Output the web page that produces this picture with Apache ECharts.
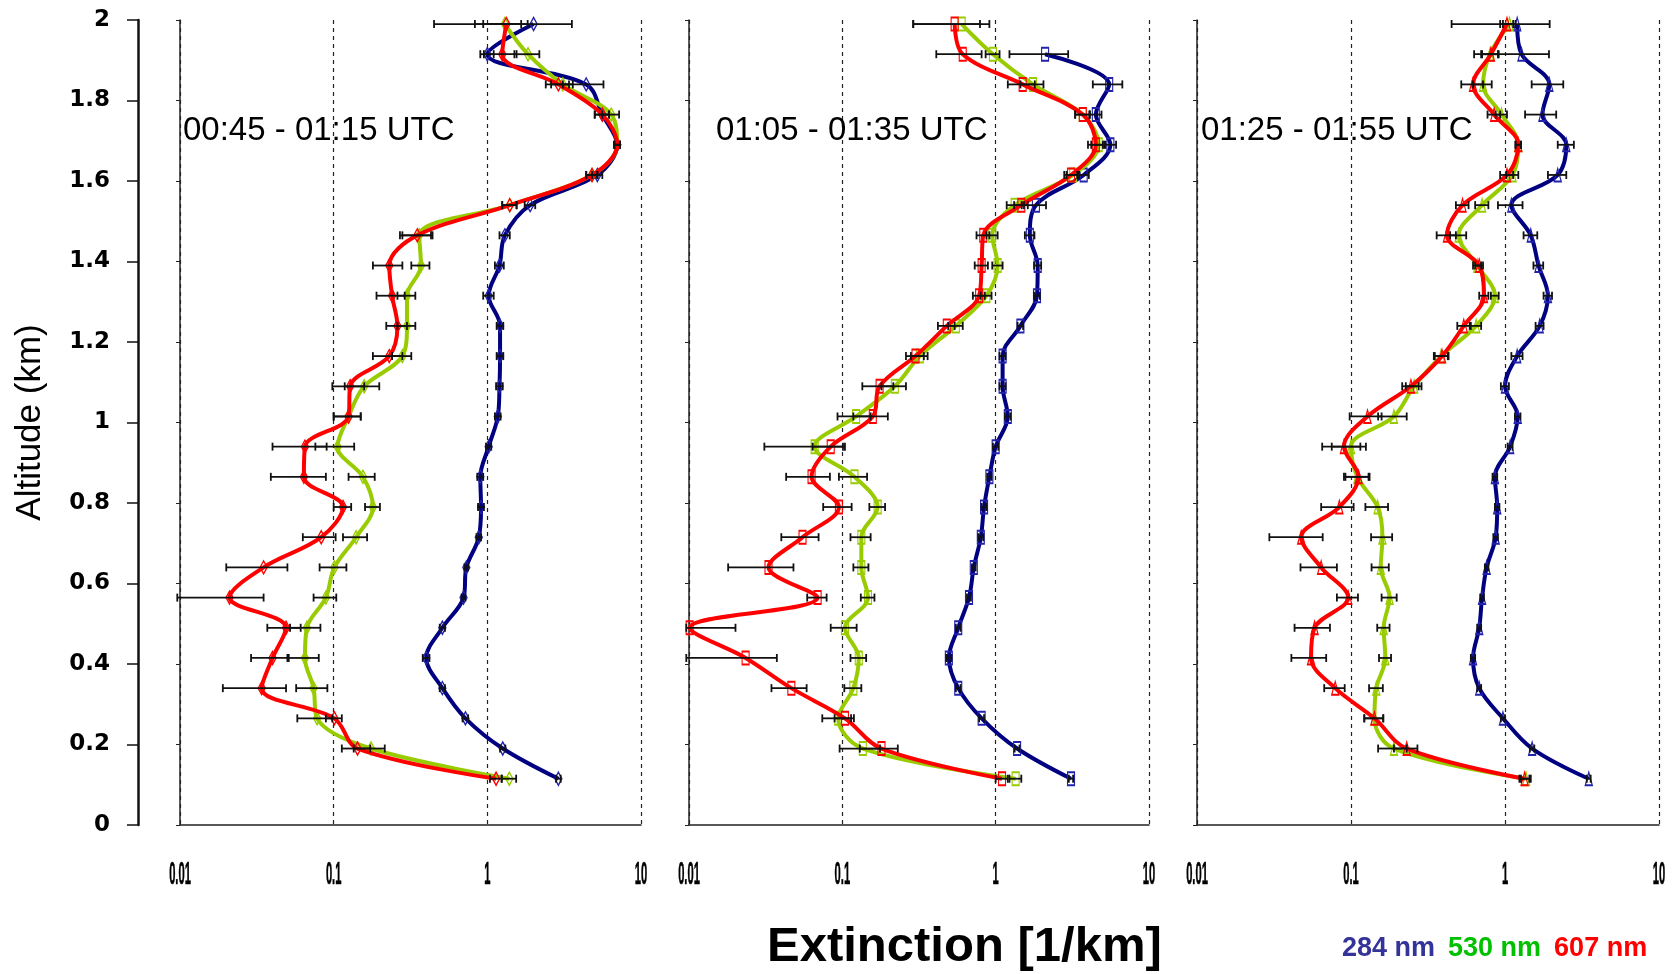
<!DOCTYPE html>
<html><head><meta charset="utf-8">
<script src="https://cdn.jsdelivr.net/npm/echarts@6/dist/echarts.min.js"></script>
<style>html,body{margin:0;padding:0;background:#fff}#c{width:1674px;height:974px}</style>
</head><body><div id="c"></div>
<script>
// ---------- data ----------
const altitudes = [0.115,0.19,0.265,0.34,0.415,0.49,0.565,0.64,0.715,0.79,0.865,0.94,1.015,1.09,1.165,1.24,1.315,1.39,1.465,1.54,1.615,1.69,1.765,1.84,1.915,1.99];
const panelTitles = ['00:45 - 01:15 UTC','01:05 - 01:35 UTC','01:25 - 01:55 UTC'];
const seriesNames = ['284 nm','530 nm','607 nm'];
const xTickValues = [0.01, 0.1, 1, 10];
const xTickLabels = ['0.01','0.1','1','10'];
const yTickLabels = ['0','0.2','0.4','0.6','0.8','1','1.2','1.4','1.6','1.8','2'];

// panel 1 (00:45 - 01:15 UTC)
const p1Blue  = [2.9,1.26,0.72,0.51,0.40,0.51,0.70,0.73,0.88,0.91,0.90,1.02,1.17,1.2,1.21,1.21,1.02,1.2,1.3,1.9,5.2,7.0,5.6,4.4,1.0,2.0];
const p1Green = [1.39,0.175,0.078,0.074,0.065,0.067,0.089,0.101,0.14,0.18,0.155,0.106,0.125,0.158,0.28,0.30,0.30,0.37,0.36,1.4,4.8,7.0,6.4,3.1,1.84,1.3];
const p1Red   = [1.14,0.143,0.101,0.034,0.040,0.049,0.021,0.035,0.083,0.115,0.064,0.065,0.125,0.128,0.23,0.26,0.24,0.23,0.35,1.4,4.8,7.0,5.6,2.9,1.25,1.33];
const p1BlueErr  = [0.1,0.05,0.03,0.02,0.02,0.02,0.02,0.02,0.03,0.04,0.04,0.04,0.05,0.06,0.06,0.06,0.08,0.08,0.1,0.15,0.4,0.3,0.6,1.3,0.1,1.55];
const p1GreenErr = [0.15,0.04,0.02,0.017,0.015,0.015,0.015,0.02,0.025,0.02,0.03,0.03,0.025,0.04,0.04,0.04,0.04,0.05,0.08,0.15,0.4,0.3,0.8,0.5,0.34,0.36];
const p1RedErr   = [0.1,0.03,0.012,0.015,0.011,0.012,0.014,0.015,0.02,0.015,0.025,0.025,0.025,0.03,0.05,0.04,0.05,0.05,0.08,0.15,0.4,0.3,0.6,0.5,0.3,0.5];

// panel 2 (01:05 - 01:35 UTC)
const p2Blue  = [3.1,1.38,0.81,0.57,0.495,0.57,0.67,0.72,0.80,0.84,0.91,1.0,1.2,1.11,1.11,1.45,1.86,1.88,1.67,1.83,3.75,5.6,4.5,5.5,2.1,null];
const p2Green = [1.35,0.136,0.094,0.118,0.128,0.104,0.147,0.133,0.133,0.17,0.12,0.066,0.123,0.22,0.32,0.55,0.87,1.03,0.95,1.33,3.2,4.7,3.7,1.75,0.96,0.60];
const p2Red   = [1.1,0.18,0.104,0.0465,0.0234,0.0101,0.069,0.033,0.055,0.095,0.063,0.084,0.158,0.175,0.30,0.48,0.78,0.81,0.83,1.47,3.1,4.5,3.7,1.5,0.61,0.54];
const p2BlueErr  = [0.1,0.05,0.03,0.02,0.02,0.02,0.02,0.02,0.03,0.03,0.03,0.04,0.05,0.05,0.05,0.06,0.08,0.1,0.12,0.3,0.3,0.5,0.4,1.2,0.87,null];
const p2GreenErr = [0.12,0.04,0.02,0.015,0.015,0.02,0.015,0.015,0.02,0.02,0.025,0.035,0.03,0.04,0.04,0.06,0.07,0.08,0.08,0.15,0.3,0.5,0.4,0.3,0.1,0.31];
const p2RedErr   = [0.1,0.05,0.015,0.012,0.014,0.01,0.01,0.015,0.015,0.02,0.02,0.02,0.04,0.04,0.04,0.06,0.07,0.08,0.08,0.15,0.3,0.5,0.4,0.3,0.2,0.25];

// panel 3 (01:25 - 01:55 UTC)
const p3Blue  = [3.5,1.5,0.97,0.68,0.62,0.68,0.71,0.76,0.87,0.89,0.86,1.08,1.21,1.0,1.2,1.68,1.9,1.65,1.47,1.1,2.2,2.5,1.75,1.94,1.28,1.2];
const p3Green = [1.37,0.19,0.142,0.146,0.167,0.163,0.178,0.156,0.16,0.149,0.11,0.1,0.19,0.257,0.385,0.65,0.86,0.66,0.5,0.71,1.12,1.22,0.95,0.72,0.8,1.07];
const p3Red   = [1.34,0.23,0.142,0.079,0.055,0.058,0.096,0.064,0.0475,0.084,0.112,0.09,0.128,0.245,0.39,0.54,0.73,0.68,0.42,0.53,1.03,1.22,0.85,0.62,0.81,1.03];
const p3BlueErr  = [0.1,0.05,0.03,0.02,0.02,0.02,0.02,0.02,0.03,0.03,0.03,0.04,0.05,0.06,0.1,0.1,0.12,0.12,0.15,0.2,0.3,0.3,0.4,0.45,0.65,0.75];
const p3GreenErr = [0.1,0.04,0.02,0.015,0.015,0.015,0.02,0.02,0.025,0.025,0.02,0.025,0.04,0.03,0.04,0.05,0.05,0.04,0.06,0.07,0.1,0.05,0.08,0.1,0.1,0.1];
const p3RedErr   = [0.1,0.04,0.02,0.012,0.014,0.015,0.015,0.017,0.018,0.02,0.02,0.025,0.03,0.03,0.04,0.05,0.05,0.04,0.06,0.05,0.1,0.05,0.08,0.1,0.1,0.1];

// ---------- build ----------
const panels = [
  {vals:[p1Blue,p1Green,p1Red], errs:[p1BlueErr,p1GreenErr,p1RedErr], symbol:'diamond'},
  {vals:[p2Blue,p2Green,p2Red], errs:[p2BlueErr,p2GreenErr,p2RedErr], symbol:'rect'},
  {vals:[p3Blue,p3Green,p3Red], errs:[p3BlueErr,p3GreenErr,p3RedErr], symbol:'triangle'}
];
const gridLeft = [180, 689, 1197];
const gridWidth = [461, 460, 462];
const titleLeft = [183, 716, 1201];
const lineColors = ['#000080', '#99cc00', '#ff0000'];
const markColors = ['#2222aa', '#99cc00', '#ff0000'];
const legendColors = ['#333399', '#00c000', '#ff0000'];

const grids = [], xAxes = [], yAxes = [], series = [];
const axisCol = '#222';

panels.forEach((p, i) => {
  grids.push({left: gridLeft[i], width: gridWidth[i], top: 20, height: 805, containLabel: false});
  xAxes.push({
    type: 'log', logBase: 10, min: 0.01, max: 10, gridIndex: i,
    axisLine: {show: true, onZero: false, lineStyle: {color: axisCol, width: 1.5}},
    axisTick: {show: false}, minorTick: {show: false}, minorSplitLine: {show: false},
    splitLine: {show: true, lineStyle: {color: axisCol, type: [4, 4], width: 1.2}},
    axisLabel: {show: false}
  });
  yAxes.push({
    type: 'value', gridIndex: i, min: 0, max: 2, interval: 0.2,
    axisLine: {show: true, onZero: false, lineStyle: {color: axisCol, width: 1.5}},
    axisTick: {show: true, inside: false, length: 4, lineStyle: {color: axisCol}},
    axisLabel: {show: false}, splitLine: {show: false}
  });
  p.vals.forEach((arr, c) => {
    const pts = [];
    const eb = [];
    arr.forEach((v, k) => {
      if (v == null) return;
      pts.push([v, altitudes[k]]);
      const e = p.errs[c][k];
      if (e != null) eb.push([Math.max(v - e, 0.0096), v + e, altitudes[k]]);
    });
    series.push({
      type: 'line', name: seriesNames[c], xAxisIndex: i, yAxisIndex: i,
      data: pts, smooth: 0.35, symbol: p.symbol, symbolSize: [7, 13], showSymbol: true,
      lineStyle: {color: lineColors[c], width: 4},
      itemStyle: {color: 'rgba(255,255,255,0)', borderColor: markColors[c], borderWidth: 1.5},
      z: 2 + c, animation: false, emphasis: {disabled: true}, silent: true
    });
    series.push({
      type: 'custom', xAxisIndex: i, yAxisIndex: i, data: eb,
      encode: {x: [0, 1], y: 2}, z: 10, silent: true, animation: false,
      renderItem: (params, api) => {
        const y = api.value(2);
        const lo = api.coord([api.value(0), y]);
        const hi = api.coord([api.value(1), y]);
        const h = 4, st = {stroke: '#111', lineWidth: 1.8};
        return {type: 'group', children: [
          {type: 'line', shape: {x1: lo[0], y1: lo[1], x2: hi[0], y2: hi[1]}, style: st},
          {type: 'line', shape: {x1: lo[0], y1: lo[1] - h, x2: lo[0], y2: lo[1] + h}, style: st},
          {type: 'line', shape: {x1: hi[0], y1: hi[1] - h, x2: hi[0], y2: hi[1] + h}, style: st}
        ]};
      }
    });
  });
});

// main altitude axis left of panel 1
yAxes.push({
  type: 'value', gridIndex: 0, position: 'left', offset: 42, min: 0, max: 2, interval: 0.2,
  axisLine: {show: true, onZero: false, lineStyle: {color: '#111', width: 2.5}},
  axisTick: {show: true, length: 11, lineStyle: {color: '#111', width: 1.5}},
  axisLabel: {show: true, margin: 28, fontFamily: 'DejaVu Sans', fontWeight: 'bold', fontSize: 23, color: '#000',
    formatter: v => yTickLabels[Math.round(v * 5)]},
  splitLine: {show: false},
  name: 'Altitude (km)', nameLocation: 'middle', nameGap: 90, nameRotate: 90,
  nameTextStyle: {fontFamily: 'Liberation Sans', fontSize: 35, color: '#000'}
});

const titles = [{text: 'Extinction [1/km]', left: 767, top: 923, padding: 0,
  textStyle: {fontSize: 49, fontWeight: 'bold', fontFamily: 'Liberation Sans', color: '#000'}}];
panelTitles.forEach((t, i) => titles.push({text: t, left: titleLeft[i], top: 114, padding: 0,
  textStyle: {fontSize: 33, fontWeight: 'normal', fontFamily: 'Liberation Sans', color: '#000'}}));

const chart = echarts.init(document.getElementById('c'), null, {renderer: 'canvas'});
chart.setOption({
  backgroundColor: '#fff',
  animation: false,
  title: titles,
  legend: {
    left: 1332, top: 930, itemWidth: 0, itemHeight: 0, itemGap: 8, selectedMode: false,
    data: seriesNames.map((n, k) => ({name: n, icon: 'none', textStyle: {color: legendColors[k]}})),
    textStyle: {fontSize: 27, fontWeight: 'bold', fontFamily: 'Liberation Sans'}
  },
  grid: grids, xAxis: xAxes, yAxis: yAxes, series: series
});

// condensed x tick labels, positioned through each panel's own axes
const tickTexts = [];
panels.forEach((p, i) => {
  const y0 = chart.convertToPixel({yAxisIndex: i}, 0);
  xTickValues.forEach((v, k) => {
    const x = chart.convertToPixel({xAxisIndex: i}, v);
    tickTexts.push({type: 'text', x: x, y: y0 + 50, scaleX: 0.36, silent: true,
      style: {text: xTickLabels[k], font: 'bold 31px "Liberation Sans"', fill: '#000',
        stroke: '#000', lineWidth: 0.6, align: 'center', verticalAlign: 'middle'}});
  });
});
chart.setOption({graphic: tickTexts});
</script></body></html>
